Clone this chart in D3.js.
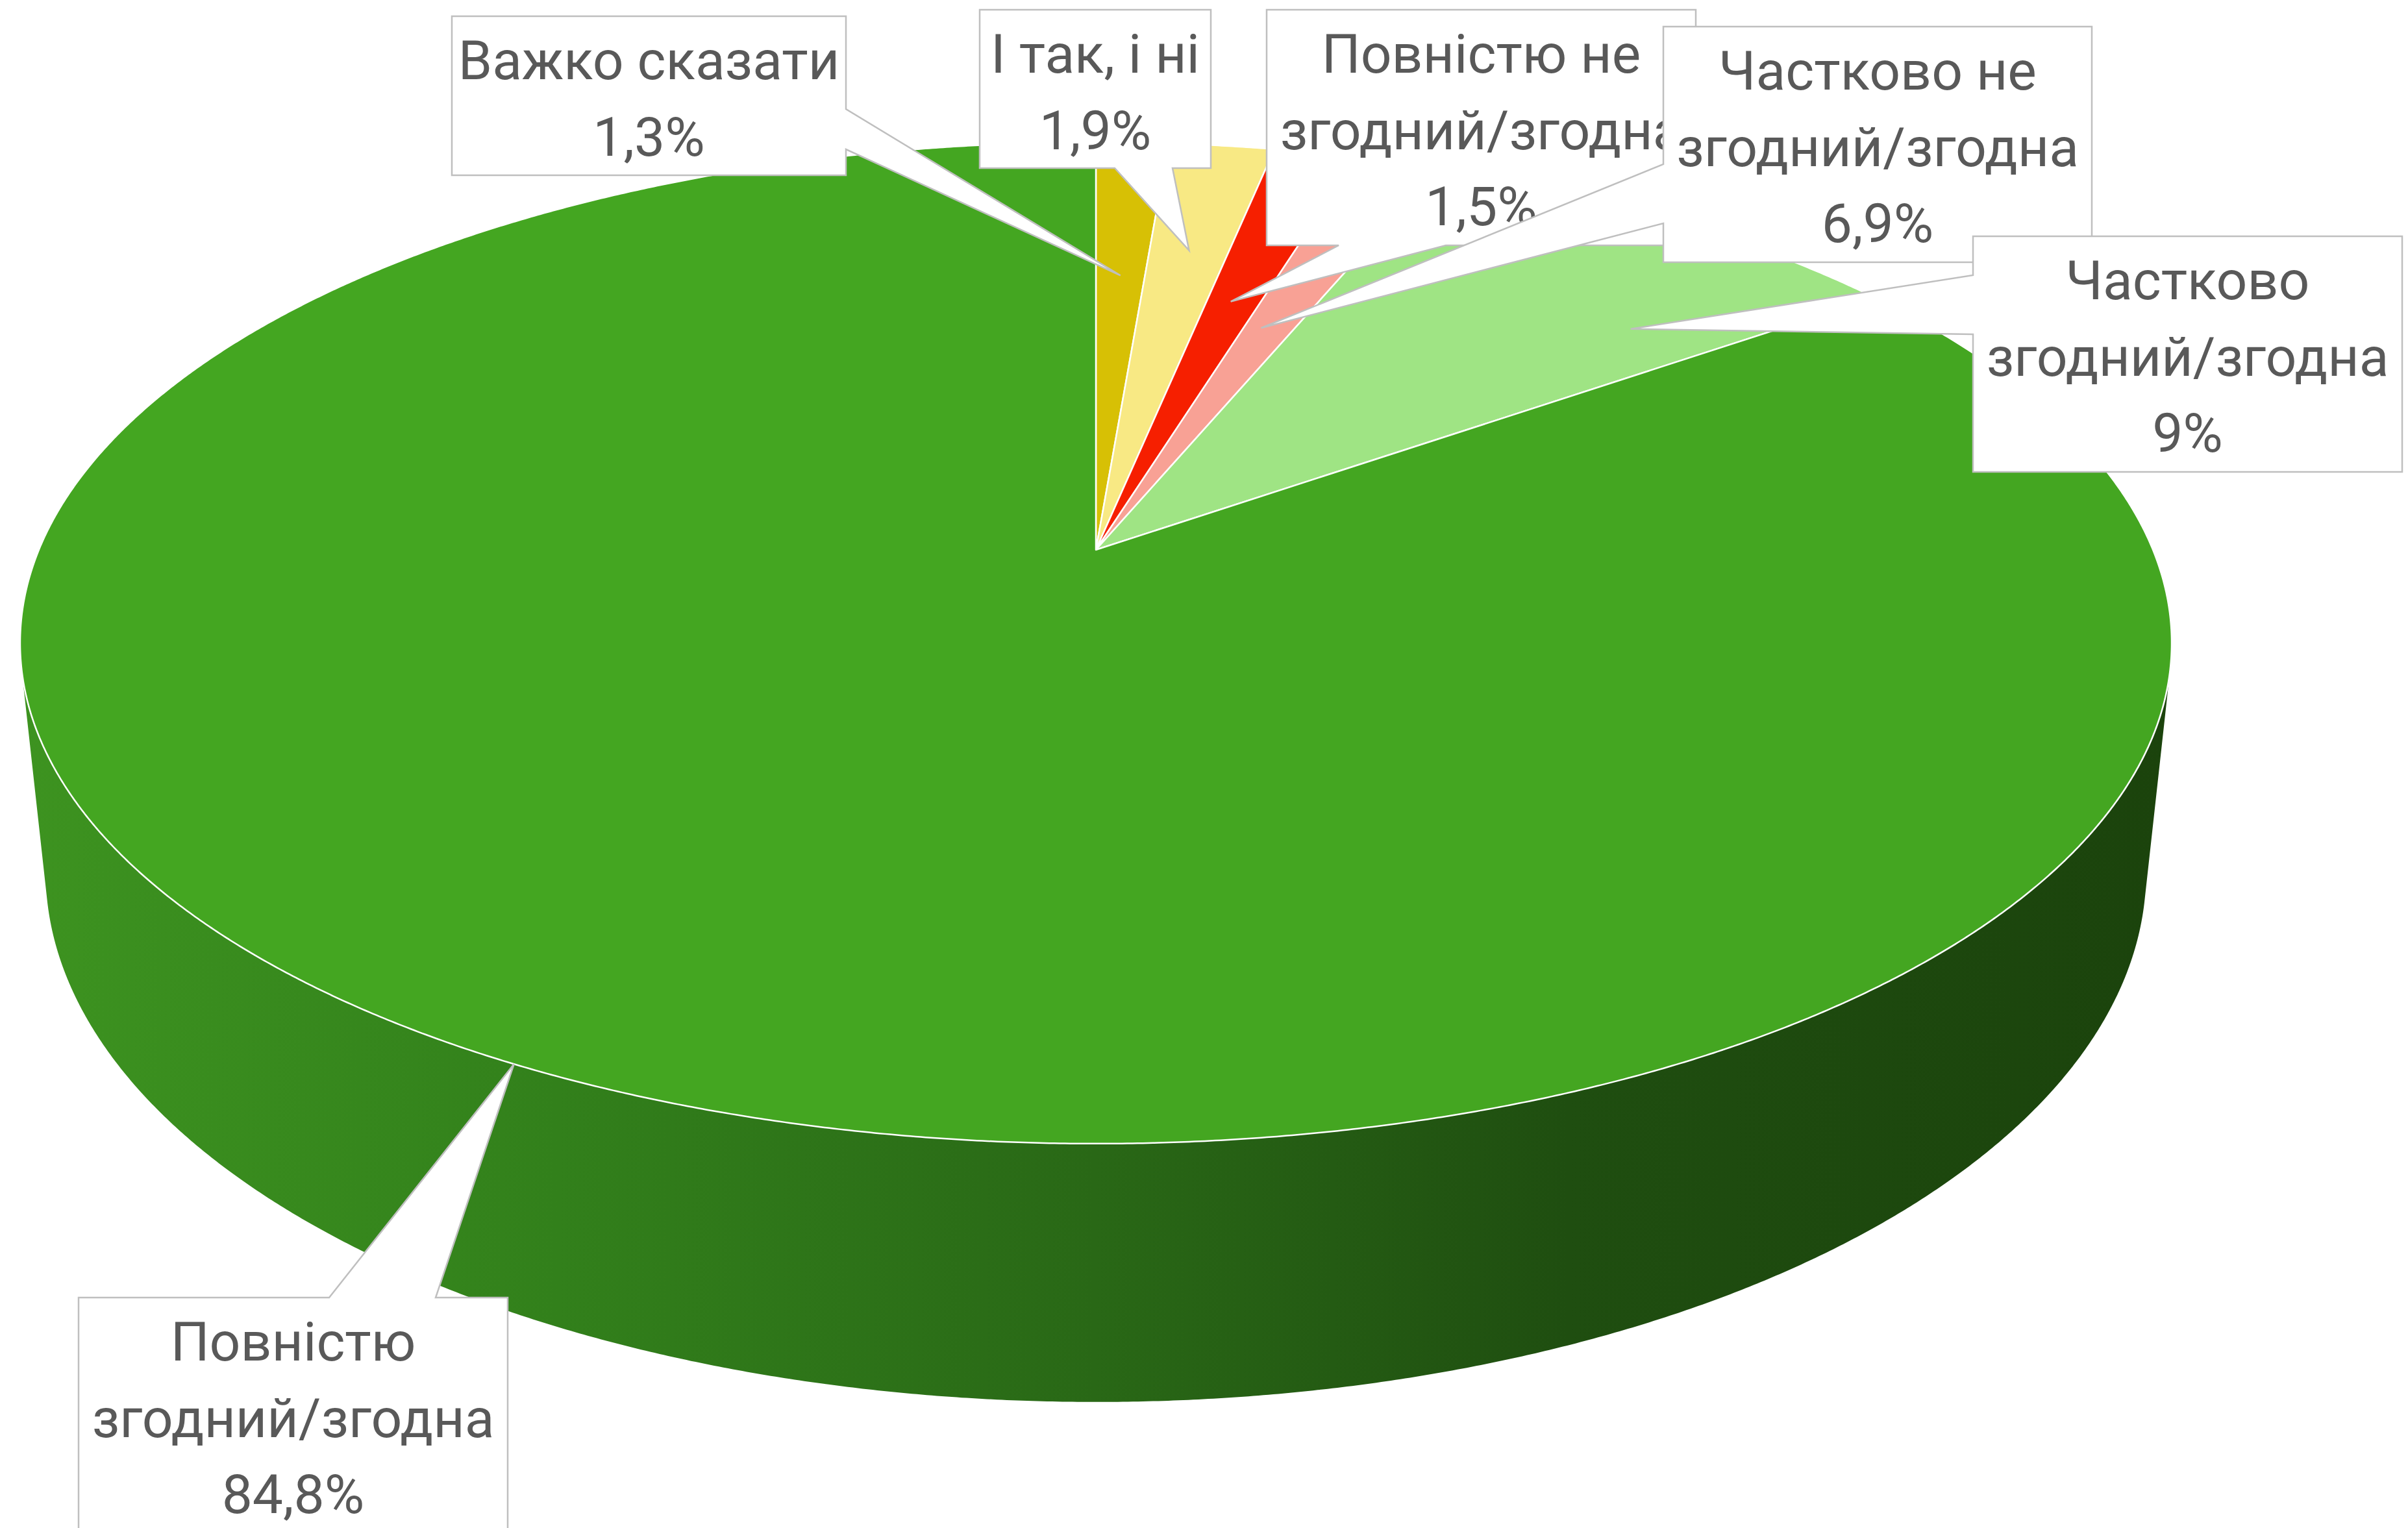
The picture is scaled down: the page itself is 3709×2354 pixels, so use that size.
<!DOCTYPE html>
<html>

<head>
    <meta charset="utf-8">
    <title>3D Pie</title>
    <script src="https://cdnjs.cloudflare.com/ajax/libs/d3/7.8.5/d3.min.js"></script>
</head>

<body>
    <style>
        html,
        body {
            margin: 0;
            padding: 0;
            background-color: #FFFFFF;
        }

        #chart svg {
            display: block;
        }

        .callout-text {
            font-family: 'Roboto', 'Noto Sans', sans-serif;
            font-size: 84px;
            fill: #595959;
        }
    </style>
    <div id="chart"></div>

    <script>

        // slices, clockwise from the back of the pie
        const categories = ['Важко сказати', 'І так, і ні', 'Повністю не згодний/згодна',
            'Частково не згодний/згодна', 'Частково згодний/згодна', 'Повністю згодний/згодна'];
        const sliceValues = [1.3, 1.9, 1.5, 1.5, 9, 84.8];
        // percentages as printed on the callouts
        const valueLabels = ['1,3%', '1,9%', '1,5%', '6,9%', '9%', '84,8%'];
        const sliceColors = ['#D7C005', '#F8E984', '#F61F00', '#F8A195', '#9FE484', '#44A621'];

        const width = 3709;
        const height = 2354;

        // perspective view of the disc
        const cx = 1688, cy = 847;
        const focal = 7784, dist = 4.781;
        const tilt = Math.asin(0.4574);
        const sinT = Math.sin(tilt), cosT = Math.cos(tilt);
        const thickness = 0.245;

        function project(a, r, yh) {
            const x = r * Math.sin(a);
            const z = -r * Math.cos(a);
            const depth = dist - (yh * sinT + z * cosT);
            const u = yh * cosT - z * sinT;
            return [cx + focal * x / depth, cy - focal * u / depth];
        }

        // callout boxes: position, size, edge that carries the pointer and where its base sits
        const boxes = [
            { x: 696, y: 25, w: 607, h: 245, side: 'right', b0: 143, b1: 205, tipFrac: 0.5, tipR: 0.635 },
            { x: 1509, y: 15, w: 356, h: 244, side: 'bottom', b0: 208, b1: 297, tipFrac: 0.5, tipR: 0.707 },
            { x: 1951, y: 15, w: 661, h: 363, side: 'bottom', b0: 111, b1: 276, tipFrac: 0.45, tipR: 0.585 },
            { x: 2562, y: 41, w: 660, h: 363, side: 'left', b0: 212, b1: 303, tipFrac: 0.35, tipR: 0.53 },
            { x: 3039, y: 364, w: 661, h: 363, side: 'left', b0: 60, b1: 151, tipFrac: 0.79, tipR: 0.745 },
            { x: 121, y: 1999, w: 661, h: 363, side: 'top', b0: 386, b1: 550, tipFrac: 0.5, tipR: 1 }
        ];

        const svg = d3.select('#chart')
            .append('svg')
            .attr('width', width)
            .attr('height', height);

        const defs = svg.append('defs');
        const grad = defs.append('linearGradient')
            .attr('id', 'side-grad')
            .attr('gradientUnits', 'userSpaceOnUse')
            .attr('x1', 30).attr('x2', 3345)
            .attr('y1', 0).attr('y2', 0);
        [[0, '#3D9320'], [0.25, '#32801B'], [0.5, '#296816'], [0.72, '#1F4E10'], [1, '#1B430C']]
            .forEach(([o, c]) => grad.append('stop').attr('offset', o).attr('stop-color', c));

        const pie = d3.pie().sort(null).value(d => d);
        const arcs = pie(sliceValues);

        const line = d3.line();

        // side wall: only the part facing the viewer
        const limit = Math.acos(-1 / (dist * cosT));
        const sideTop = d3.range(limit, 2 * Math.PI - limit, 0.004).concat([2 * Math.PI - limit]);
        const sidePts = sideTop.map(a => project(a, 1, 0))
            .concat(sideTop.slice().reverse().map(a => project(a, 1, -thickness)));

        svg.append('path')
            .attr('d', line(sidePts) + 'Z')
            .attr('fill', 'url(#side-grad)');

        // top face
        svg.append('g')
            .selectAll('path')
            .data(arcs)
            .enter()
            .append('path')
            .attr('d', (d) => {
                const steps = Math.max(2, Math.ceil((d.endAngle - d.startAngle) / 0.004));
                const pts = [[cx, cy]];
                for (let i = 0; i <= steps; i++) {
                    const a = d.startAngle + (d.endAngle - d.startAngle) * i / steps;
                    pts.push(project(a, 1, 0));
                }
                return line(pts) + 'Z';
            })
            .attr('fill', (d, i) => sliceColors[i])
            .attr('stroke', '#FFFFFF')
            .attr('stroke-width', 2.5)
            .attr('stroke-linejoin', 'round');

        function calloutPath(b, tip) {
            const { x, y, w, h } = b;
            let pts;
            if (b.side === 'top') {
                pts = [[x, y], [x + b.b0, y], tip, [x + b.b1, y], [x + w, y], [x + w, y + h], [x, y + h]];
            } else if (b.side === 'right') {
                pts = [[x, y], [x + w, y], [x + w, y + b.b0], tip, [x + w, y + b.b1], [x + w, y + h], [x, y + h]];
            } else if (b.side === 'bottom') {
                pts = [[x, y], [x + w, y], [x + w, y + h], [x + b.b1, y + h], tip, [x + b.b0, y + h], [x, y + h]];
            } else {
                pts = [[x, y], [x + w, y], [x + w, y + h], [x, y + h], [x, y + b.b1], tip, [x, y + b.b0]];
            }
            return line(pts) + 'Z';
        }

        function wrap(words, maxWidth, probe) {
            const lines = [];
            let current = '';
            words.forEach((word) => {
                const test = current ? current + ' ' + word : word;
                probe.text(test);
                if (current && probe.node().getComputedTextLength() > maxWidth) {
                    lines.push(current);
                    current = word;
                } else {
                    current = test;
                }
            });
            if (current) lines.push(current);
            return lines;
        }

        const probe = svg.append('text').attr('class', 'callout-text').attr('opacity', 0);

        const labels = svg.append('g');
        arcs.forEach((d, i) => {
            const b = boxes[i];
            const a = d.startAngle + (d.endAngle - d.startAngle) * b.tipFrac;
            const tip = project(a, b.tipR, 0);

            const g = labels.append('g');
            g.append('path')
                .attr('d', calloutPath(b, tip))
                .attr('fill', '#FFFFFF')
                .attr('stroke', '#BFBFBF')
                .attr('stroke-width', 2.5)
                .attr('stroke-linejoin', 'miter');

            const textLines = wrap(categories[i].split(' '), 640, probe).concat([valueLabels[i]]);
            g.append('text')
                .attr('class', 'callout-text')
                .attr('text-anchor', 'middle')
                .selectAll('tspan')
                .data(textLines)
                .enter()
                .append('tspan')
                .attr('x', b.x + b.w / 2)
                .attr('y', (t, j) => b.y + 97 + j * 117.5)
                .text(t => t);
        });
        probe.remove();

    </script>
</body>

</html>
